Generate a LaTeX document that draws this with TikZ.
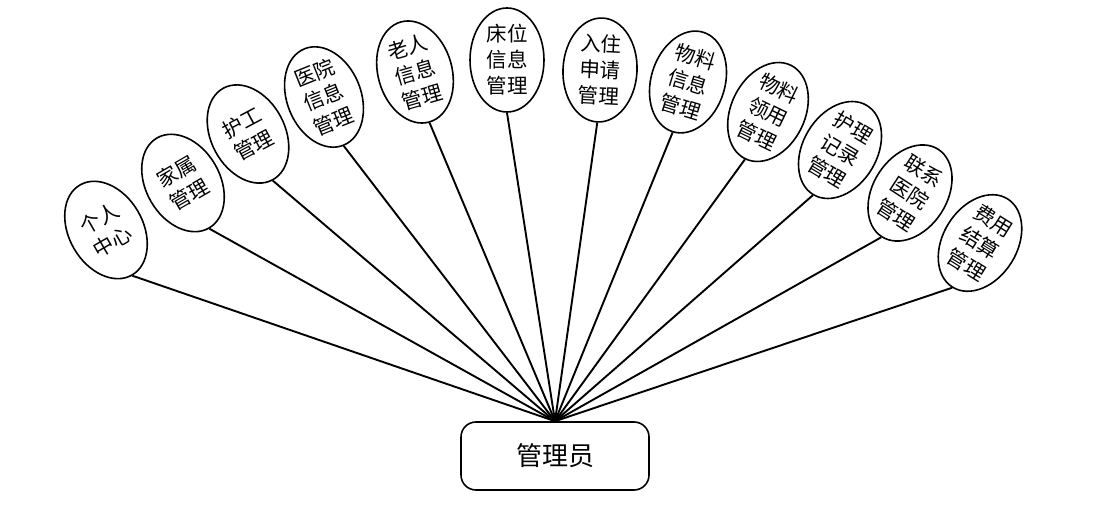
\documentclass[tikz,border=0pt]{standalone}
\usepackage{fontspec}
\newfontfamily\cjk{Noto Sans CJK SC}
\usetikzlibrary{shapes.geometric, positioning}

\tikzset{
  func/.style={ellipse, draw, line width=1.6pt, minimum width=74pt,
               minimum height=104pt, inner sep=0pt, align=center,
               font=\cjk\fontsize{20.5}{26}\selectfont},
  rolebox/.style={draw, line width=1.6pt, rounded corners=15pt,
                  minimum width=188pt, minimum height=68pt,
                  font=\cjk\fontsize{26}{30}\selectfont},
  link/.style={line width=1.9pt}
}

\begin{document}
\begin{tikzpicture}[x=1pt, y=1pt]
      \useasboundingbox (0,0) rectangle (1110,511);
      % Role
      \node[rolebox] (admin) at (555,55) {管理员};
      % Functions
      \foreach \i/\px/\py/\ang/\txt in {
          1/106/281/30/{个人\\中心},
          2/183/328/30/{家属\\管理},
          3/248/377/28/{护工\\管理},
          4/324/414/22/{医院\\信息\\管理},
          5/415/439/16/{老人\\信息\\管理},
          6/507/451/0/{床位\\信息\\管理},
          7/600/441/-3/{入住\\申请\\管理},
          8/688/429/-17/{物料\\信息\\管理},
          9/768/399/-26/{物料\\领用\\管理},
          10/840/361/-31/{护理\\记录\\管理},
          11/910/318/-33/{联系\\医院\\管理},
          12/980/268/-32/{费用\\结算\\管理}} {
        \node[func, rotate=\ang] (m\i) at (\px,\py) {\txt};
        \draw[link] (admin.north) -- (m\i.south);
      }
    \end{tikzpicture}
\end{document}
